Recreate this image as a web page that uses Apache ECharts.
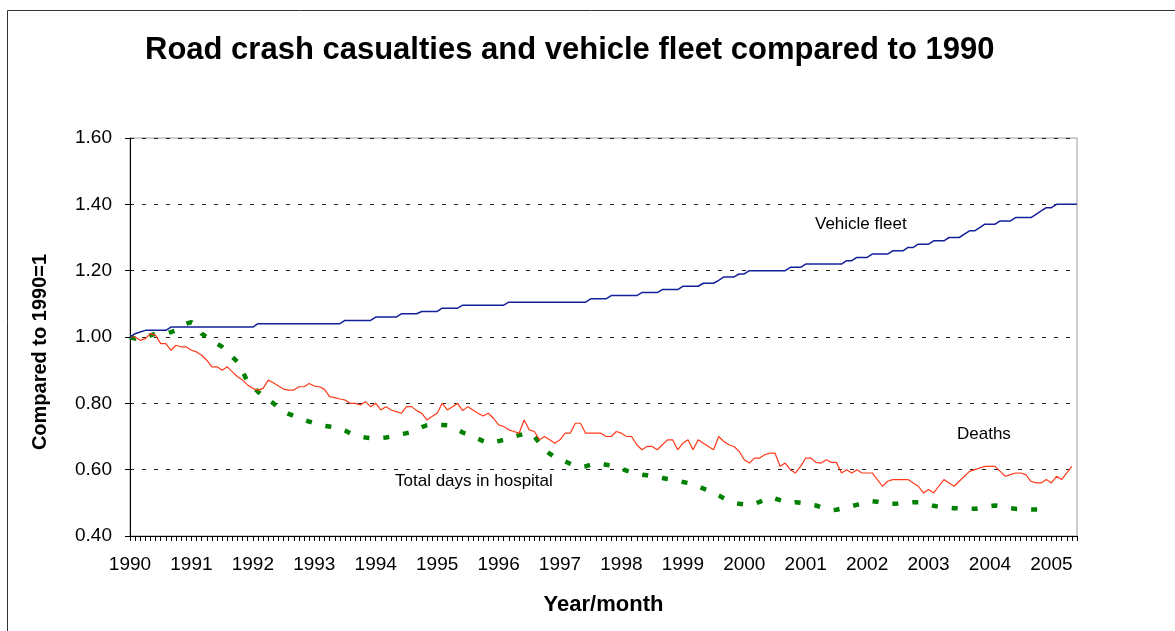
<!DOCTYPE html>
<html>
<head>
<meta charset="utf-8">
<script src="https://cdn.jsdelivr.net/npm/echarts@6/dist/echarts.min.js"></script>
<style>
  html, body { margin: 0; padding: 0; background: #fff; }
  #chart { width: 1175px; height: 631px; }
</style>
</head>
<body>
<div id="chart"></div>
<script>
// years on the axis, one label per January
const years = [1990, 1991, 1992, 1993, 1994, 1995, 1996, 1997, 1998, 1999, 2000, 2001, 2002, 2003, 2004, 2005];
const lastMonth = 6; // data runs to June 2005

// vehicle fleet, monthly, 1990 = 1
const fleet = [
  1.00, 1.01, 1.015, 1.02, 1.02, 1.02, 1.02, 1.02, 1.03, 1.03, 1.03, 1.03,
  1.03, 1.03, 1.03, 1.03, 1.03, 1.03, 1.03, 1.03, 1.03, 1.03, 1.03, 1.03,
  1.03, 1.04, 1.04, 1.04, 1.04, 1.04, 1.04, 1.04, 1.04, 1.04, 1.04, 1.04,
  1.04, 1.04, 1.04, 1.04, 1.04, 1.04, 1.05, 1.05, 1.05, 1.05, 1.05, 1.05,
  1.06, 1.06, 1.06, 1.06, 1.06, 1.07, 1.07, 1.07, 1.07, 1.077, 1.077, 1.077,
  1.077, 1.087, 1.087, 1.087, 1.087, 1.096, 1.096, 1.096, 1.096, 1.096, 1.096, 1.096,
  1.096, 1.096, 1.105, 1.105, 1.105, 1.105, 1.105, 1.105, 1.105, 1.105, 1.105, 1.105,
  1.105, 1.105, 1.105, 1.105, 1.105, 1.105, 1.115, 1.115, 1.115, 1.115, 1.125, 1.125,
  1.125, 1.125, 1.125, 1.125, 1.134, 1.134, 1.134, 1.134, 1.143, 1.143, 1.143, 1.143,
  1.153, 1.153, 1.153, 1.153, 1.162, 1.162, 1.162, 1.171, 1.181, 1.181, 1.181, 1.19,
  1.19, 1.20, 1.20, 1.20, 1.20, 1.20, 1.20, 1.20, 1.20, 1.21, 1.21, 1.21,
  1.22, 1.22, 1.22, 1.22, 1.22, 1.22, 1.22, 1.22, 1.23, 1.23, 1.24, 1.24,
  1.24, 1.25, 1.25, 1.25, 1.25, 1.26, 1.26, 1.26, 1.27, 1.27, 1.28, 1.28,
  1.28, 1.29, 1.29, 1.29, 1.30, 1.30, 1.30, 1.31, 1.32, 1.32, 1.33, 1.34,
  1.34, 1.34, 1.35, 1.35, 1.35, 1.36, 1.36, 1.36, 1.36, 1.37, 1.38, 1.39,
  1.39, 1.40, 1.40, 1.40, 1.40, 1.40
];

// road deaths, monthly
const deaths = [
  1.00, 1.00, 0.99, 0.995, 1.01, 1.005, 0.98, 0.98, 0.96, 0.975, 0.97, 0.97,
  0.96, 0.955, 0.945, 0.93, 0.91, 0.91, 0.90, 0.91, 0.895, 0.88, 0.87, 0.855,
  0.845, 0.84, 0.845, 0.87, 0.862, 0.852, 0.843, 0.84, 0.84, 0.85, 0.85, 0.86,
  0.852, 0.85, 0.842, 0.82, 0.817, 0.813, 0.81, 0.80, 0.80, 0.795, 0.805, 0.79,
  0.80, 0.78, 0.79, 0.78, 0.775, 0.77, 0.79, 0.79, 0.778, 0.77, 0.75, 0.76,
  0.77, 0.80, 0.78, 0.79, 0.80, 0.778, 0.79, 0.78, 0.77, 0.762, 0.77, 0.755,
  0.735, 0.73, 0.72, 0.715, 0.71, 0.75, 0.72, 0.715, 0.69, 0.70, 0.69, 0.68,
  0.69, 0.71, 0.71, 0.74, 0.74, 0.71, 0.71, 0.71, 0.71, 0.70, 0.70, 0.715,
  0.71, 0.70, 0.70, 0.675, 0.66, 0.67, 0.67, 0.66, 0.675, 0.69, 0.69, 0.66,
  0.68, 0.69, 0.66, 0.69, 0.68, 0.67, 0.66, 0.70, 0.685, 0.675, 0.67, 0.655,
  0.63, 0.62, 0.635, 0.635, 0.645, 0.65, 0.65, 0.61, 0.62, 0.60, 0.59, 0.61,
  0.635, 0.635, 0.622, 0.62, 0.63, 0.622, 0.622, 0.59, 0.60, 0.59, 0.60, 0.59,
  0.59, 0.59, 0.57, 0.55, 0.565, 0.57, 0.57, 0.57, 0.57, 0.56, 0.55, 0.53,
  0.54, 0.53, 0.55, 0.57, 0.56, 0.55, 0.565, 0.58, 0.595, 0.60, 0.605, 0.61,
  0.61, 0.61, 0.595, 0.58, 0.585, 0.59, 0.59, 0.585, 0.565, 0.56, 0.56, 0.57,
  0.56, 0.58, 0.57, 0.59, 0.61
];

// total days in hospital, monthly
const hospitalDays = [
  1.00, 0.995, 1.00, 1.00, 1.005, 1.01, 1.01, 1.01, 1.015, 1.02, 1.03, 1.04,
  1.045, 1.03, 1.01, 1.00, 0.99, 0.98, 0.97, 0.955, 0.94, 0.925, 0.895, 0.865,
  0.85, 0.835, 0.822, 0.812, 0.80, 0.787, 0.775, 0.768, 0.762, 0.757, 0.75, 0.745,
  0.74, 0.735, 0.732, 0.73, 0.727, 0.725, 0.718, 0.71, 0.704, 0.70, 0.697, 0.695,
  0.694, 0.695, 0.697, 0.70, 0.703, 0.707, 0.71, 0.714, 0.72, 0.728, 0.734, 0.736,
  0.736, 0.735, 0.734, 0.728, 0.72, 0.712, 0.706, 0.70, 0.693, 0.686, 0.68, 0.682,
  0.686, 0.69, 0.695, 0.70, 0.704, 0.708, 0.71, 0.70, 0.68, 0.66, 0.648, 0.638,
  0.63, 0.625, 0.618, 0.612, 0.608, 0.61, 0.615, 0.62, 0.618, 0.615, 0.612, 0.608,
  0.603, 0.597, 0.592, 0.588, 0.585, 0.583, 0.58, 0.578, 0.575, 0.572, 0.57, 0.567,
  0.563, 0.56, 0.557, 0.55, 0.543, 0.537, 0.53, 0.522, 0.514, 0.506, 0.50, 0.497,
  0.495, 0.493, 0.497, 0.503, 0.51, 0.517, 0.513, 0.508, 0.504, 0.50, 0.502, 0.50,
  0.498, 0.495, 0.492, 0.487, 0.482, 0.478, 0.479, 0.483, 0.487, 0.49, 0.494, 0.498,
  0.502, 0.505, 0.503, 0.50, 0.497, 0.497, 0.498, 0.50, 0.501, 0.502, 0.502, 0.499,
  0.495, 0.491, 0.488, 0.487, 0.485, 0.484, 0.483, 0.483, 0.482, 0.482, 0.484, 0.487,
  0.49, 0.492, 0.49, 0.487, 0.484, 0.482, 0.481, 0.48, 0.48, 0.48, 0.48
];

// one category per month
const months = [];
years.forEach((y) => {
  const n = y === years[years.length - 1] ? lastMonth : 12;
  for (let m = 1; m <= n; m++) {
    months.push(y + '-' + (m < 10 ? '0' + m : m));
  }
});

const font = 'Arial, "Liberation Sans", sans-serif';

const chart = echarts.init(document.getElementById('chart'));

chart.setOption({
  animation: false,
  backgroundColor: '#fff',
  title: {
    text: 'Road crash casualties and vehicle fleet compared to 1990',
    left: 145,
    top: 35,
    padding: 0,
    textStyle: { fontFamily: font, fontSize: 31, fontWeight: 'bold', color: '#000' },
  },
  grid: {
    left: 130,
    right: 98,
    top: 138,
    bottom: 95,
    show: true,
    borderColor: '#9a9a9a',
    borderWidth: 1,
    backgroundColor: '#fff',
  },
  xAxis: {
    type: 'category',
    data: months,
    boundaryGap: false,
    name: 'Year/month',
    nameLocation: 'middle',
    nameGap: 58,
    nameTextStyle: { fontFamily: font, fontSize: 22, fontWeight: 'bold', color: '#000' },
    axisLine: { lineStyle: { color: '#000', width: 1 } },
    axisTick: { interval: 0, length: 5, lineStyle: { color: '#000' } },
    axisLabel: {
      interval: 11,
      margin: 19,
      fontFamily: font,
      fontSize: 19,
      color: '#000',
      formatter: (v) => v.slice(0, 4),
    },
    splitLine: { show: false },
  },
  yAxis: {
    type: 'value',
    min: 0.4,
    max: 1.6,
    interval: 0.2,
    name: 'Compared to 1990=1',
    nameLocation: 'middle',
    nameRotate: 90,
    nameGap: 80,
    nameTextStyle: { fontFamily: font, fontSize: 20, fontWeight: 'bold', color: '#000', padding: [0, 30, 0, 0] },
    axisLine: { show: true, lineStyle: { color: '#000', width: 1 } },
    axisTick: { show: true, length: 5, lineStyle: { color: '#000' } },
    axisLabel: {
      margin: 18,
      fontFamily: font,
      fontSize: 19,
      color: '#000',
      formatter: (v) => v.toFixed(2),
    },
    splitLine: { show: true, lineStyle: { color: '#222', width: 1, type: [4, 8] } },
  },
  graphic: [
    {
      type: 'rect',
      silent: true,
      shape: { x: 7.5, y: 10.5, width: 1200, height: 700 },
      style: { fill: 'none', stroke: '#333', lineWidth: 1 },
      z: -1,
    },
    {
      type: 'text',
      x: 815,
      y: 224,
      style: { text: 'Vehicle fleet', fontFamily: font, fontSize: 17, fill: '#000', verticalAlign: 'middle' },
    },
    {
      type: 'text',
      x: 957,
      y: 434,
      style: { text: 'Deaths', fontFamily: font, fontSize: 17, fill: '#000', verticalAlign: 'middle' },
    },
    {
      type: 'text',
      x: 395,
      y: 481,
      style: { text: 'Total days in hospital', fontFamily: font, fontSize: 17, fill: '#000', verticalAlign: 'middle' },
    },
  ],
  series: [
    {
      name: 'Total days in hospital',
      type: 'line',
      data: hospitalDays,
      symbol: 'none',
      lineStyle: { color: '#008000', width: 4.5, type: [6, 14] },
    },
    {
      name: 'Deaths',
      type: 'line',
      data: deaths,
      symbol: 'none',
      lineStyle: { color: '#ff3a1a', width: 1.2 },
    },
    {
      name: 'Vehicle fleet',
      type: 'line',
      data: fleet,
      symbol: 'none',
      lineStyle: { color: '#14209a', width: 1.5 },
    },
  ],
});
</script>
</body>
</html>
